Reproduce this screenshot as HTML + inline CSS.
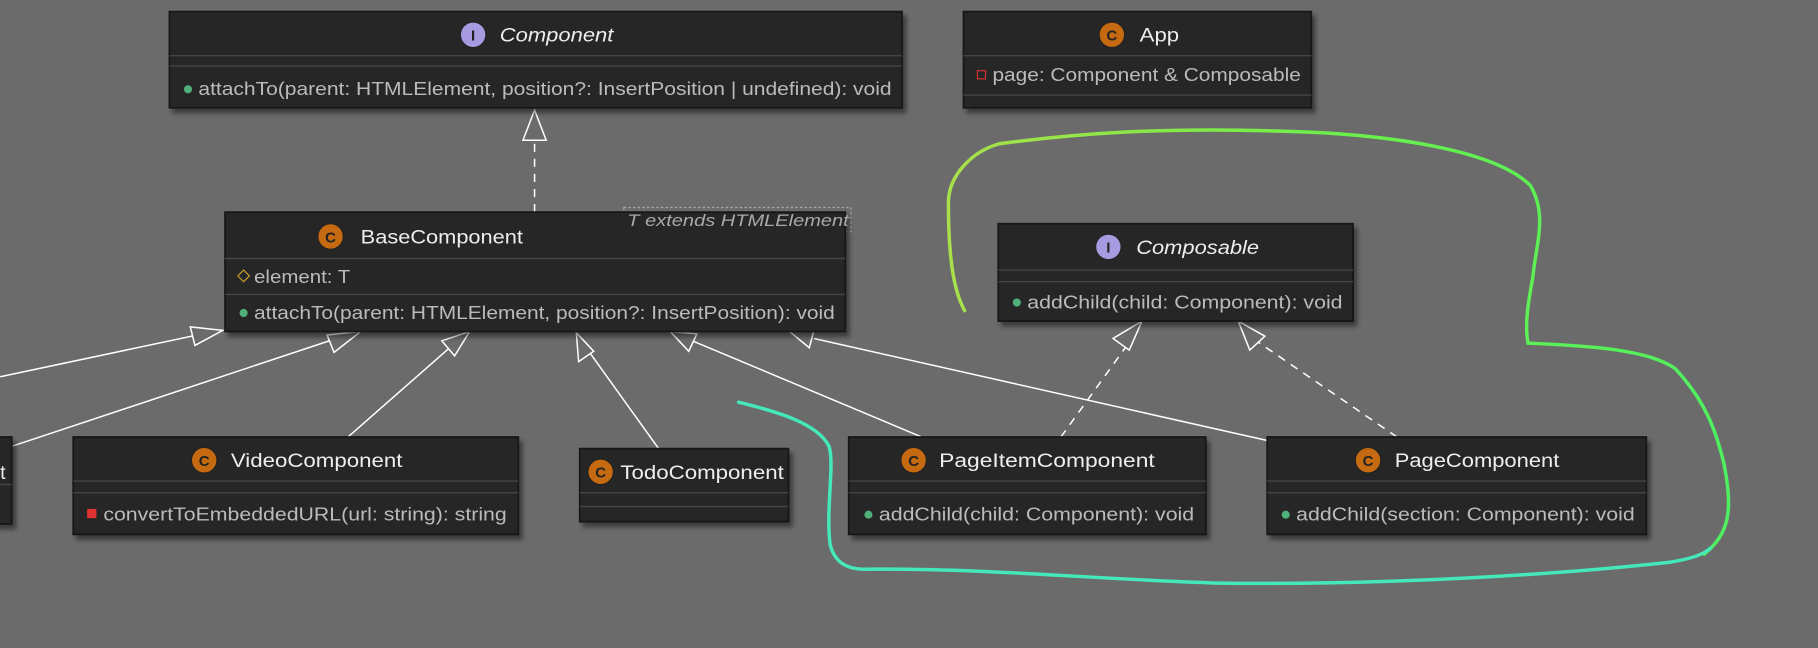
<!DOCTYPE html>
<html><head><meta charset="utf-8"><style>
html,body{margin:0;padding:0;background:#6b6b6b;width:1818px;height:648px;overflow:hidden}
svg{display:block}
text{font-family:"Liberation Sans",sans-serif}
</style></head><body>
<svg width="1818" height="648" viewBox="0 0 1568 559" xmlns="http://www.w3.org/2000/svg">
<defs>
<filter id="sh" x="-5%" y="-5%" width="110%" height="120%"><feDropShadow dx="3" dy="4" stdDeviation="2" flood-color="#000" flood-opacity="0.45"/></filter>
</defs>
<rect width="1568" height="559" fill="#6b6b6b"/>

<g stroke="#fff" stroke-width="1.3" fill="none">
<line x1="461" y1="183" x2="461" y2="120" stroke-dasharray="7,6"/>
<line x1="0" y1="325" x2="170" y2="289"/>
<line x1="10" y1="385" x2="290" y2="292"/>
<line x1="300" y1="377" x2="390" y2="298"/>
<line x1="568" y1="387" x2="507" y2="302"/>
<line x1="795" y1="377" x2="597" y2="294"/>
<line x1="1093" y1="380" x2="702" y2="292"/>
<line x1="915" y1="377" x2="972" y2="298" stroke-dasharray="7,6"/>
<line x1="1205" y1="377" x2="1085" y2="295" stroke-dasharray="7,6"/>
</g>
<g stroke="#fff" stroke-width="1.3" fill="#6b6b6b">
<polygon points="461,95 451,121 471,121"/>
<polygon points="192,285 164,282 168,298"/>
<polygon points="311,286 282,289 288,304"/>
<polygon points="405,286 381,294 392,307"/>
<polygon points="497,287 499,312 512,303"/>
<polygon points="578,286 594,303 601,288"/>
<polygon points="681,286 698,300 702,285"/>
<polygon points="985,277 960,292 974,302"/>
<polygon points="1068,277 1078,302 1091,290"/>
</g>

<rect x="538" y="179" width="196" height="21" fill="#6b6b6b" stroke="#aaa" stroke-dasharray="2,2"/>

<g filter="url(#sh)" fill="#262626" stroke="#161616" stroke-width="1.5">
<rect x="146" y="10" width="632" height="83"/>
<rect x="831" y="10" width="300" height="83"/>
<rect x="194" y="183" width="535" height="103"/>
<rect x="861" y="193" width="306" height="84"/>
<rect x="-5" y="377" width="15" height="75"/>
<rect x="63" y="377" width="384" height="84"/>
<rect x="500" y="387" width="180" height="63"/>
<rect x="732" y="377" width="308" height="84"/>
<rect x="1093" y="377" width="327" height="84"/>
</g>
<g stroke="#444" stroke-width="1.2">
<line x1="146" y1="48" x2="778" y2="48"/><line x1="146" y1="57" x2="778" y2="57"/>
<line x1="831" y1="48" x2="1131" y2="48"/><line x1="831" y1="82" x2="1131" y2="82"/>
<line x1="194" y1="223" x2="729" y2="223"/><line x1="194" y1="254" x2="729" y2="254"/>
<line x1="861" y1="233" x2="1167" y2="233"/><line x1="861" y1="243" x2="1167" y2="243"/>
<line x1="0" y1="418" x2="10" y2="418"/>
<line x1="63" y1="415" x2="447" y2="415"/><line x1="63" y1="425" x2="447" y2="425"/>
<line x1="500" y1="425" x2="680" y2="425"/><line x1="500" y1="437" x2="680" y2="437"/>
<line x1="732" y1="415" x2="1040" y2="415"/><line x1="732" y1="425" x2="1040" y2="425"/>
<line x1="1093" y1="415" x2="1420" y2="415"/><line x1="1093" y1="425" x2="1420" y2="425"/>
</g>

<g font-size="13" font-weight="bold" text-anchor="middle">
<circle cx="408" cy="30" r="11" fill="#a89ae0" stroke="#222"/><text x="408" y="35" fill="#222">I</text>
<circle cx="959" cy="30" r="11" fill="#c56a10" stroke="#222"/><text x="959" y="35" fill="#222">C</text>
<circle cx="285" cy="204" r="11" fill="#c56a10" stroke="#222"/><text x="285" y="209" fill="#222">C</text>
<circle cx="956" cy="213" r="11" fill="#a89ae0" stroke="#222"/><text x="956" y="218" fill="#222">I</text>
<circle cx="176" cy="397" r="11" fill="#c56a10" stroke="#222"/><text x="176" y="402" fill="#222">C</text>
<circle cx="518" cy="407" r="11" fill="#c56a10" stroke="#222"/><text x="518" y="412" fill="#222">C</text>
<circle cx="788" cy="397" r="11" fill="#c56a10" stroke="#222"/><text x="788" y="402" fill="#222">C</text>
<circle cx="1180" cy="397" r="11" fill="#c56a10" stroke="#222"/><text x="1180" y="402" fill="#222">C</text>
</g>
<g font-size="17" fill="#eee" lengthAdjust="spacingAndGlyphs">
<text x="431" y="36" font-style="italic" textLength="98" lengthAdjust="spacingAndGlyphs">Component</text>
<text x="983" y="36" textLength="34" lengthAdjust="spacingAndGlyphs">App</text>
<text x="311" y="210" textLength="140" lengthAdjust="spacingAndGlyphs">BaseComponent</text>
<text x="980" y="219" font-style="italic" textLength="106" lengthAdjust="spacingAndGlyphs">Composable</text>
<text x="0" y="413">t</text>
<text x="199" y="403" textLength="148" lengthAdjust="spacingAndGlyphs">VideoComponent</text>
<text x="535" y="413" textLength="141" lengthAdjust="spacingAndGlyphs">TodoComponent</text>
<text x="810" y="403" textLength="186" lengthAdjust="spacingAndGlyphs">PageItemComponent</text>
<text x="1203" y="403" textLength="142" lengthAdjust="spacingAndGlyphs">PageComponent</text>
</g>
<text x="541" y="195" font-size="14" font-style="italic" fill="#aaa" textLength="191" lengthAdjust="spacingAndGlyphs">T extends HTMLElement</text>

<g font-size="16" fill="#bbb">
<circle cx="162" cy="77" r="3.5" fill="#4fb07a"/><text x="171" y="82" textLength="598" lengthAdjust="spacingAndGlyphs">attachTo(parent: HTMLElement, position?: InsertPosition | undefined): void</text>
<rect x="843" y="61" width="7" height="7" fill="none" stroke="#d33"/><text x="856" y="70" textLength="266" lengthAdjust="spacingAndGlyphs">page: Component &amp; Composable</text>
<polygon points="210,233 215,238 210,243 205,238" fill="none" stroke="#c9a030"/><text x="219" y="244" textLength="83" lengthAdjust="spacingAndGlyphs">element: T</text>
<circle cx="210" cy="270" r="3.5" fill="#4fb07a"/><text x="219" y="275" textLength="501" lengthAdjust="spacingAndGlyphs">attachTo(parent: HTMLElement, position?: InsertPosition): void</text>
<circle cx="877" cy="261" r="3.5" fill="#4fb07a"/><text x="886" y="266" textLength="272" lengthAdjust="spacingAndGlyphs">addChild(child: Component): void</text>
<rect x="75" y="439" width="8" height="8" fill="#d33"/><text x="89" y="449" textLength="348" lengthAdjust="spacingAndGlyphs">convertToEmbeddedURL(url: string): string</text>
<circle cx="749" cy="444" r="3.5" fill="#4fb07a"/><text x="758" y="449" textLength="272" lengthAdjust="spacingAndGlyphs">addChild(child: Component): void</text>
<circle cx="1109" cy="444" r="3.5" fill="#4fb07a"/><text x="1118" y="449" textLength="292" lengthAdjust="spacingAndGlyphs">addChild(section: Component): void</text>
</g>

<defs><linearGradient id="g1" x1="0" y1="0" x2="1" y2="0"><stop offset="0" stop-color="#a8e04a"/><stop offset="0.5" stop-color="#6cf04a"/><stop offset="1" stop-color="#4ef060"/></linearGradient></defs>
<path d="M832,268 C822,250 818,220 818,175 C818,150 840,130 862,124 C930,115 1000,110 1100,113 C1200,115 1290,130 1320,160 C1335,185 1325,210 1322,240 C1318,262 1315,280 1318,296 C1360,298 1420,300 1445,318 C1470,345 1480,370 1487,400 C1495,440 1492,460 1470,478" fill="none" stroke="url(#g1)" stroke-width="3" stroke-linecap="round"/>
<path d="M637,347 C670,355 705,365 715,385 C720,400 712,440 716,470 C720,485 730,492 750,491 C850,490 950,500 1050,503 C1200,505 1350,495 1440,485 C1460,482 1470,478 1475,473" fill="none" stroke="#45e8b8" stroke-width="3" stroke-linecap="round"/>
</svg>
</body></html>
